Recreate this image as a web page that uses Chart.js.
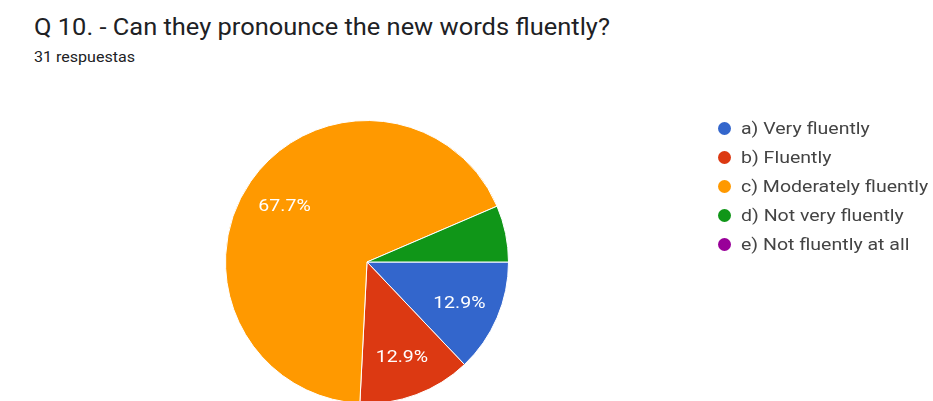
<!DOCTYPE html>
<html>
<head>
<meta charset="utf-8">
<script src="https://cdn.jsdelivr.net/npm/chart.js@4/dist/chart.umd.min.js"></script>
<style>
  html, body { margin: 0; padding: 0; background: #fff; overflow: hidden; }
  body { width: 933px; height: 401px; position: relative; font-family: Roboto, Arial, sans-serif; }
  .wide { display: inline-block; transform-origin: 0 50%; white-space: nowrap; }
  #title { position: absolute; left: 34px; top: 13px; font-size: 24px; line-height: 28px; color: #202124; transform: scaleX(1.06); }
  #sub { position: absolute; left: 34px; top: 48px; font-size: 15px; line-height: 18px; color: #202124; transform: scaleX(1.07); }
  #pie { position: absolute; left: 0; top: 0; }
  #legend { position: absolute; left: 718px; top: 119px; margin: 0; padding: 0; list-style: none; }
  #legend li { height: 29px; display: flex; align-items: flex-start; font-size: 16px; line-height: 19px; color: #444; white-space: nowrap; }
  #legend li .wide { transform: scaleX(1.22); }
  #legend span.dot { width: 13px; height: 13px; border-radius: 50%; margin-right: 10px; margin-top: 3px; flex: none; }
</style>
</head>
<body>
<div id="title" class="wide">Q 10. - Can they pronounce the new words fluently?</div>
<div id="sub" class="wide">31 respuestas</div>
<canvas id="pie" width="933" height="420"></canvas>
<ul id="legend"></ul>
<script>
const categories = ['a) Very fluently', 'b) Fluently', 'c) Moderately fluently', 'd) Not very fluently', 'e) Not fluently at all'];
const responses = [4, 4, 21, 2, 0];
const colors = ['#3366cc', '#dc3912', '#ff9900', '#109618', '#990099'];

// Percentage labels inside the larger slices
const sliceLabels = {
  id: 'sliceLabels',
  afterDatasetsDraw(chart) {
    const ctx = chart.ctx;
    const data = chart.data.datasets[0].data;
    const total = data.reduce((a, b) => a + b, 0);
    const meta = chart.getDatasetMeta(0);
    meta.data.forEach((arc, i) => {
      const share = data[i] / total;
      if (share < 0.1) return;
      const mid = (arc.startAngle + arc.endAngle) / 2;
      const r = arc.outerRadius * 0.71;
      ctx.save();
      ctx.translate(arc.x + Math.cos(mid) * r, arc.y + Math.sin(mid) * r + 2);
      ctx.scale(1.22, 1);
      ctx.fillStyle = '#ffffff';
      ctx.font = '16px Roboto, Arial, sans-serif';
      ctx.textAlign = 'center';
      ctx.textBaseline = 'middle';
      ctx.fillText((share * 100).toFixed(1) + '%', 0, 0);
      ctx.restore();
    });
  }
};

const chart = new Chart(document.getElementById('pie'), {
  type: 'pie',
  data: {
    labels: categories,
    datasets: [{
      data: responses,
      backgroundColor: colors,
      borderColor: '#ffffff',
      borderWidth: 1
    }]
  },
  options: {
    responsive: false,
    animation: false,
    rotation: 90,
    layout: { padding: { left: 225, right: 424, top: 120, bottom: 16 } },
    plugins: { legend: { display: false }, tooltip: { enabled: false } }
  },
  plugins: [sliceLabels]
});

const legend = document.getElementById('legend');
categories.forEach((name, i) => {
  const li = document.createElement('li');
  const dot = document.createElement('span');
  dot.className = 'dot';
  dot.style.background = colors[i];
  const text = document.createElement('span');
  text.className = 'wide';
  text.textContent = name;
  li.appendChild(dot);
  li.appendChild(text);
  legend.appendChild(li);
});
</script>
</body>
</html>
